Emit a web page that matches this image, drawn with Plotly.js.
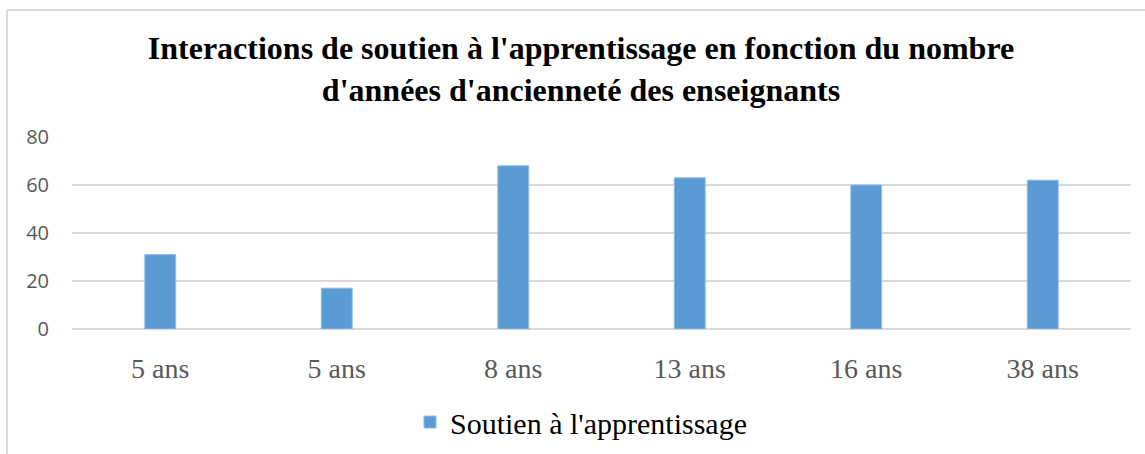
<!DOCTYPE html>
<html>
<head>
<meta charset="utf-8">
<script src="https://cdn.plot.ly/plotly-3.0.1.min.js"></script>
<style>
html,body{margin:0;padding:0;background:#fff;}
#chart{width:1145px;height:454px;}
</style>
</head>
<body>
<div id="chart"></div>
<script>
const categories = ["5 ans", "5 ans", "8 ans", "13 ans", "16 ans", "38 ans"];
const seriesName = "Soutien à l'apprentissage";
const values = [31, 17, 68, 63, 60, 62];
const yTicks = [0, 20, 40, 60, 80];
const titleText = "Interactions de soutien à l'apprentissage en fonction du nombre<br>d'années d'ancienneté des enseignants";

const positions = categories.map((c, i) => i);

const W = 1145, H = 454;
const L = 72, R = 14, T = 137, B = 125;
const pw = W - L - R, ph = H - T - B;
const px = v => (v - L) / pw;
const py = v => 1 - (v - T) / ph;

const trace = {
  type: 'bar',
  x: positions,
  y: values,
  name: seriesName,
  marker: {color: '#5b9bd5', line: {color: '#8fbce6', width: 1}},
  showlegend: true,
  hoverinfo: 'x+y'
};

const layout = {
  width: W, height: H,
  margin: {l: L, r: R, t: T, b: B, pad: 0, autoexpand: false},
  paper_bgcolor: '#ffffff',
  plot_bgcolor: '#ffffff',
  bargap: 0.825,
  title: {
    text: titleText,
    font: {family: 'Liberation Serif, Times New Roman, serif', size: 32, color: '#000000', weight: 'bold'},
    x: 581 / W, xanchor: 'center', xref: 'container',
    y: 1 - 59 / H, yanchor: 'middle', yref: 'container'
  },
  xaxis: {
    range: [-0.5, categories.length - 0.5],
    tickmode: 'array',
    tickvals: positions,
    ticktext: categories,
    showgrid: false,
    zeroline: false,
    showline: false,
    ticks: '',
    ticklabelstandoff: 20,
    tickfont: {family: 'Liberation Serif, Times New Roman, serif', size: 28, color: '#595959'},
    fixedrange: true
  },
  yaxis: {
    range: [0, 80],
    tickmode: 'array',
    tickvals: yTicks,
    ticktext: yTicks.map(String),
    showgrid: true,
    gridcolor: '#d9d9d9',
    gridwidth: 1.5,
    zeroline: true,
    zerolinecolor: '#d9d9d9',
    zerolinewidth: 1.5,
    showline: false,
    ticks: '',
    ticklabelstandoff: 22,
    tickfont: {family: 'Open Sans, sans-serif', size: 20, color: '#595959'},
    fixedrange: true
  },
  legend: {
    orientation: 'h',
    x: px(410), xanchor: 'left',
    yref: 'container',
    y: 1 - 422 / H, yanchor: 'middle',
    font: {family: 'Liberation Serif, Times New Roman, serif', size: 30, color: '#000000'},
    bgcolor: 'rgba(0,0,0,0)'
  },
  shapes: [
    {type: 'line', xref: 'paper', yref: 'paper', x0: px(7), x1: px(1146), y0: py(10), y1: py(10), line: {color: '#d9d9d9', width: 2}},
    {type: 'line', xref: 'paper', yref: 'paper', x0: px(7), x1: px(7), y0: py(10), y1: py(455), line: {color: '#d9d9d9', width: 2}}
  ]
};

Plotly.newPlot('chart', [trace], layout, {displayModeBar: false, staticPlot: true});
</script>
</body>
</html>
